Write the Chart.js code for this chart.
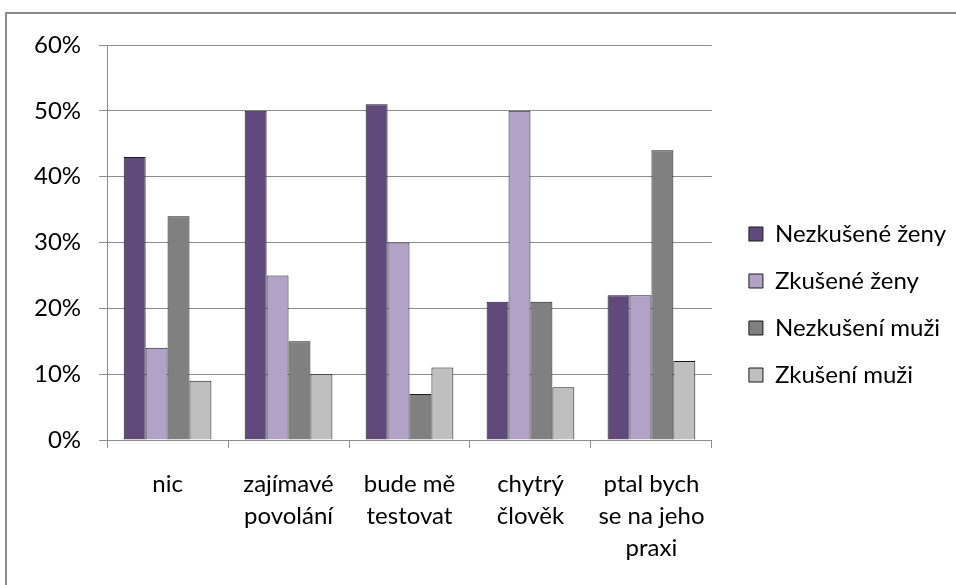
<!DOCTYPE html>
<html lang="cs">
<head>
    <meta charset="UTF-8">
    <title>Co by vás zajímalo</title>
    <script src="https://cdn.jsdelivr.net/npm/chart.js"></script>
    <style>
        html, body { margin: 0; padding: 0; background: #fff; }
        .frame {
            position: absolute; left: 5px; top: 12px;
            width: 960px; height: 600px;
            border: 2px solid #8a8a8a;
        }
        .wrap { position: absolute; left: 0; top: 0; width: 956px; height: 585px; }
    </style>
</head>
<body>
    <div class="frame"></div>
    <div class="wrap"><canvas id="chart"></canvas></div>

    <script>
        const categories = [
            ['nic'],
            ['zajímavé', 'povolání'],
            ['bude mě', 'testovat'],
            ['chytrý', 'člověk'],
            ['ptal bych', 'se na jeho', 'praxi']
        ];
        const seriesNames = ['Nezkušené ženy', 'Zkušené ženy', 'Nezkušení muži', 'Zkušení muži'];
        const nezkuseneZeny = [43, 50, 51, 21, 22];
        const zkuseneZeny = [14, 25, 30, 50, 22];
        const nezkuseniMuzi = [34, 15, 7, 21, 44];
        const zkuseniMuzi = [9, 10, 11, 8, 12];
        const yTicks = [0, 10, 20, 30, 40, 50, 60];

        const colors = ['#604a7b', '#b3a2c7', '#808080', '#bfbfbf'];
        const seriesValues = [nezkuseneZeny, zkuseneZeny, nezkuseniMuzi, zkuseniMuzi];

        const font = { family: 'Lato', size: 24 };
        const gridColor = '#8c8c8c';

        new Chart(document.getElementById('chart'), {
            type: 'bar',
            data: {
                labels: categories,
                datasets: seriesNames.map((name, i) => ({
                    label: name,
                    data: seriesValues[i],
                    backgroundColor: colors[i],
                    borderColor: '#1a1a1a',
                    borderWidth: 1,
                    borderSkipped: 'bottom',
                    barPercentage: 1,
                    categoryPercentage: 0.725
                }))
            },
            options: {
                responsive: true,
                maintainAspectRatio: false,
                animation: false,
                layout: { padding: { top: 45, left: 16, right: 0, bottom: 21 } },
                plugins: {
                    legend: {
                        position: 'right',
                        maxWidth: 300,
                        labels: {
                            font: font,
                            color: '#000',
                            boxWidth: 14,
                            boxHeight: 14,
                            padding: 23
                        }
                    },
                    tooltip: { enabled: false }
                },
                scales: {
                    x: {
                        grid: {
                            drawOnChartArea: false,
                            offset: true,
                            tickLength: 8,
                            color: gridColor
                        },
                        border: { color: gridColor },
                        ticks: {
                            font: { ...font, lineHeight: 32 / 24 },
                            color: '#000',
                            maxRotation: 0,
                            padding: 20
                        },
                        // labels may run into the bottom padding
                        afterFit: s => { s.height = 124; }
                    },
                    y: {
                        min: 0,
                        max: 60,
                        afterBuildTicks: axis => {
                            axis.ticks = yTicks.map(v => ({ value: v }));
                        },
                        grid: { color: gridColor, tickLength: 8 },
                        border: { color: gridColor },
                        ticks: {
                            font: font,
                            color: '#000',
                            padding: 18,
                            callback: v => v + '%'
                        }
                    },
                    // empty strip between the plot and the legend
                    gap: {
                        type: 'linear',
                        position: 'right',
                        grid: { display: false },
                        border: { display: false },
                        ticks: { display: false },
                        afterFit: s => { s.width = 14; }
                    }
                }
            }
        });
    </script>
</body>
</html>
